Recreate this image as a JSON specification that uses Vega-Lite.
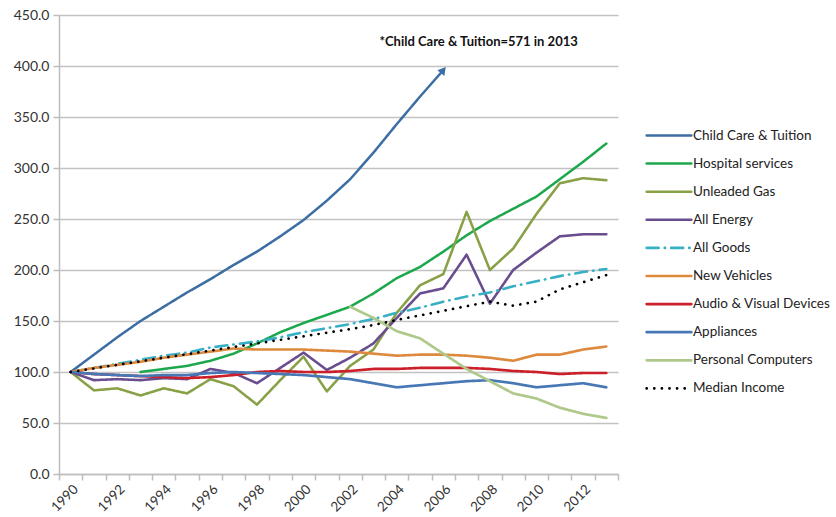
{
  "$schema": "https://vega.github.io/schema/vega-lite/v6.json",
  "width": 559,
  "height": 459,
  "autosize": "none",
  "padding": {"left": 59, "top": 15, "right": 218, "bottom": 43},
  "background": "white",
  "config": {
    "view": {"stroke": null},
    "font": "Lato",
    "axis": {"labelFont": "Lato", "labelFontSize": 14, "labelColor": "#333333", "domainColor": "#BDBDBD", "tickColor": "#BDBDBD", "domainWidth": 1.5, "tickWidth": 1.5, "gridColor": "#C2C2C2", "gridWidth": 1.5, "title": null},
    "legend": {"labelFont": "Lato", "labelFontSize": 13.5, "labelColor": "#222222"}
  },
  "datasets": {
    "series": [
      {"series": "Child Care & Tuition", "year": 1990, "value": 100},
      {"series": "Child Care & Tuition", "year": 1991, "value": 117},
      {"series": "Child Care & Tuition", "year": 1992, "value": 134},
      {"series": "Child Care & Tuition", "year": 1993, "value": 150},
      {"series": "Child Care & Tuition", "year": 1994, "value": 164},
      {"series": "Child Care & Tuition", "year": 1995, "value": 178},
      {"series": "Child Care & Tuition", "year": 1996, "value": 191},
      {"series": "Child Care & Tuition", "year": 1997, "value": 205},
      {"series": "Child Care & Tuition", "year": 1998, "value": 218},
      {"series": "Child Care & Tuition", "year": 1999, "value": 233},
      {"series": "Child Care & Tuition", "year": 2000, "value": 249},
      {"series": "Child Care & Tuition", "year": 2001, "value": 268},
      {"series": "Child Care & Tuition", "year": 2002, "value": 289},
      {"series": "Child Care & Tuition", "year": 2003, "value": 315},
      {"series": "Child Care & Tuition", "year": 2004, "value": 343},
      {"series": "Child Care & Tuition", "year": 2005, "value": 370},
      {"series": "Child Care & Tuition", "year": 2006, "value": 396},
      {"series": "Hospital services", "year": 1993, "value": 100},
      {"series": "Hospital services", "year": 1994, "value": 103},
      {"series": "Hospital services", "year": 1995, "value": 106},
      {"series": "Hospital services", "year": 1996, "value": 111},
      {"series": "Hospital services", "year": 1997, "value": 118},
      {"series": "Hospital services", "year": 1998, "value": 128},
      {"series": "Hospital services", "year": 1999, "value": 139},
      {"series": "Hospital services", "year": 2000, "value": 148},
      {"series": "Hospital services", "year": 2001, "value": 156},
      {"series": "Hospital services", "year": 2002, "value": 164},
      {"series": "Hospital services", "year": 2003, "value": 177},
      {"series": "Hospital services", "year": 2004, "value": 192},
      {"series": "Hospital services", "year": 2005, "value": 203},
      {"series": "Hospital services", "year": 2006, "value": 218},
      {"series": "Hospital services", "year": 2007, "value": 234},
      {"series": "Hospital services", "year": 2008, "value": 248},
      {"series": "Hospital services", "year": 2009, "value": 260},
      {"series": "Hospital services", "year": 2010, "value": 272},
      {"series": "Hospital services", "year": 2011, "value": 289},
      {"series": "Hospital services", "year": 2012, "value": 306},
      {"series": "Hospital services", "year": 2013, "value": 324},
      {"series": "Unleaded Gas", "year": 1990, "value": 100},
      {"series": "Unleaded Gas", "year": 1991, "value": 82},
      {"series": "Unleaded Gas", "year": 1992, "value": 84},
      {"series": "Unleaded Gas", "year": 1993, "value": 77},
      {"series": "Unleaded Gas", "year": 1994, "value": 84},
      {"series": "Unleaded Gas", "year": 1995, "value": 79},
      {"series": "Unleaded Gas", "year": 1996, "value": 93},
      {"series": "Unleaded Gas", "year": 1997, "value": 86},
      {"series": "Unleaded Gas", "year": 1998, "value": 68},
      {"series": "Unleaded Gas", "year": 1999, "value": 92},
      {"series": "Unleaded Gas", "year": 2000, "value": 115},
      {"series": "Unleaded Gas", "year": 2001, "value": 81},
      {"series": "Unleaded Gas", "year": 2002, "value": 106},
      {"series": "Unleaded Gas", "year": 2003, "value": 122},
      {"series": "Unleaded Gas", "year": 2004, "value": 158},
      {"series": "Unleaded Gas", "year": 2005, "value": 185},
      {"series": "Unleaded Gas", "year": 2006, "value": 196},
      {"series": "Unleaded Gas", "year": 2007, "value": 257},
      {"series": "Unleaded Gas", "year": 2008, "value": 200},
      {"series": "Unleaded Gas", "year": 2009, "value": 221},
      {"series": "Unleaded Gas", "year": 2010, "value": 255},
      {"series": "Unleaded Gas", "year": 2011, "value": 285},
      {"series": "Unleaded Gas", "year": 2012, "value": 290},
      {"series": "Unleaded Gas", "year": 2013, "value": 288},
      {"series": "All Energy", "year": 1990, "value": 100},
      {"series": "All Energy", "year": 1991, "value": 92},
      {"series": "All Energy", "year": 1992, "value": 93},
      {"series": "All Energy", "year": 1993, "value": 92},
      {"series": "All Energy", "year": 1994, "value": 94},
      {"series": "All Energy", "year": 1995, "value": 93},
      {"series": "All Energy", "year": 1996, "value": 103},
      {"series": "All Energy", "year": 1997, "value": 99},
      {"series": "All Energy", "year": 1998, "value": 89},
      {"series": "All Energy", "year": 1999, "value": 104},
      {"series": "All Energy", "year": 2000, "value": 119},
      {"series": "All Energy", "year": 2001, "value": 102},
      {"series": "All Energy", "year": 2002, "value": 114},
      {"series": "All Energy", "year": 2003, "value": 128},
      {"series": "All Energy", "year": 2004, "value": 153},
      {"series": "All Energy", "year": 2005, "value": 177},
      {"series": "All Energy", "year": 2006, "value": 182},
      {"series": "All Energy", "year": 2007, "value": 215},
      {"series": "All Energy", "year": 2008, "value": 167},
      {"series": "All Energy", "year": 2009, "value": 200},
      {"series": "All Energy", "year": 2010, "value": 217},
      {"series": "All Energy", "year": 2011, "value": 233},
      {"series": "All Energy", "year": 2012, "value": 235},
      {"series": "All Energy", "year": 2013, "value": 235},
      {"series": "All Goods", "year": 1990, "value": 100},
      {"series": "All Goods", "year": 1991, "value": 104},
      {"series": "All Goods", "year": 1992, "value": 108},
      {"series": "All Goods", "year": 1993, "value": 112},
      {"series": "All Goods", "year": 1994, "value": 116},
      {"series": "All Goods", "year": 1995, "value": 119},
      {"series": "All Goods", "year": 1996, "value": 124},
      {"series": "All Goods", "year": 1997, "value": 127},
      {"series": "All Goods", "year": 1998, "value": 130},
      {"series": "All Goods", "year": 1999, "value": 134},
      {"series": "All Goods", "year": 2000, "value": 139},
      {"series": "All Goods", "year": 2001, "value": 143},
      {"series": "All Goods", "year": 2002, "value": 147},
      {"series": "All Goods", "year": 2003, "value": 152},
      {"series": "All Goods", "year": 2004, "value": 158},
      {"series": "All Goods", "year": 2005, "value": 163},
      {"series": "All Goods", "year": 2006, "value": 169},
      {"series": "All Goods", "year": 2007, "value": 174},
      {"series": "All Goods", "year": 2008, "value": 178},
      {"series": "All Goods", "year": 2009, "value": 184},
      {"series": "All Goods", "year": 2010, "value": 189},
      {"series": "All Goods", "year": 2011, "value": 194},
      {"series": "All Goods", "year": 2012, "value": 198},
      {"series": "All Goods", "year": 2013, "value": 201},
      {"series": "New Vehicles", "year": 1990, "value": 100},
      {"series": "New Vehicles", "year": 1991, "value": 104},
      {"series": "New Vehicles", "year": 1992, "value": 107},
      {"series": "New Vehicles", "year": 1993, "value": 110},
      {"series": "New Vehicles", "year": 1994, "value": 114},
      {"series": "New Vehicles", "year": 1995, "value": 117},
      {"series": "New Vehicles", "year": 1996, "value": 120},
      {"series": "New Vehicles", "year": 1997, "value": 123},
      {"series": "New Vehicles", "year": 1998, "value": 122},
      {"series": "New Vehicles", "year": 1999, "value": 122},
      {"series": "New Vehicles", "year": 2000, "value": 122},
      {"series": "New Vehicles", "year": 2001, "value": 121},
      {"series": "New Vehicles", "year": 2002, "value": 120},
      {"series": "New Vehicles", "year": 2003, "value": 118},
      {"series": "New Vehicles", "year": 2004, "value": 116},
      {"series": "New Vehicles", "year": 2005, "value": 117},
      {"series": "New Vehicles", "year": 2006, "value": 117},
      {"series": "New Vehicles", "year": 2007, "value": 116},
      {"series": "New Vehicles", "year": 2008, "value": 114},
      {"series": "New Vehicles", "year": 2009, "value": 111},
      {"series": "New Vehicles", "year": 2010, "value": 117},
      {"series": "New Vehicles", "year": 2011, "value": 117},
      {"series": "New Vehicles", "year": 2012, "value": 122},
      {"series": "New Vehicles", "year": 2013, "value": 125},
      {"series": "Audio & Visual Devices", "year": 1990, "value": 100},
      {"series": "Audio & Visual Devices", "year": 1991, "value": 98},
      {"series": "Audio & Visual Devices", "year": 1992, "value": 97},
      {"series": "Audio & Visual Devices", "year": 1993, "value": 96},
      {"series": "Audio & Visual Devices", "year": 1994, "value": 95},
      {"series": "Audio & Visual Devices", "year": 1995, "value": 94},
      {"series": "Audio & Visual Devices", "year": 1996, "value": 95},
      {"series": "Audio & Visual Devices", "year": 1997, "value": 97},
      {"series": "Audio & Visual Devices", "year": 1998, "value": 100},
      {"series": "Audio & Visual Devices", "year": 1999, "value": 101},
      {"series": "Audio & Visual Devices", "year": 2000, "value": 100},
      {"series": "Audio & Visual Devices", "year": 2001, "value": 100},
      {"series": "Audio & Visual Devices", "year": 2002, "value": 101},
      {"series": "Audio & Visual Devices", "year": 2003, "value": 103},
      {"series": "Audio & Visual Devices", "year": 2004, "value": 103},
      {"series": "Audio & Visual Devices", "year": 2005, "value": 104},
      {"series": "Audio & Visual Devices", "year": 2006, "value": 104},
      {"series": "Audio & Visual Devices", "year": 2007, "value": 104},
      {"series": "Audio & Visual Devices", "year": 2008, "value": 103},
      {"series": "Audio & Visual Devices", "year": 2009, "value": 101},
      {"series": "Audio & Visual Devices", "year": 2010, "value": 100},
      {"series": "Audio & Visual Devices", "year": 2011, "value": 98},
      {"series": "Audio & Visual Devices", "year": 2012, "value": 99},
      {"series": "Audio & Visual Devices", "year": 2013, "value": 99},
      {"series": "Appliances", "year": 1990, "value": 100},
      {"series": "Appliances", "year": 1991, "value": 98},
      {"series": "Appliances", "year": 1992, "value": 97},
      {"series": "Appliances", "year": 1993, "value": 96},
      {"series": "Appliances", "year": 1994, "value": 97},
      {"series": "Appliances", "year": 1995, "value": 97},
      {"series": "Appliances", "year": 1996, "value": 99},
      {"series": "Appliances", "year": 1997, "value": 100},
      {"series": "Appliances", "year": 1998, "value": 99},
      {"series": "Appliances", "year": 1999, "value": 98},
      {"series": "Appliances", "year": 2000, "value": 97},
      {"series": "Appliances", "year": 2001, "value": 95},
      {"series": "Appliances", "year": 2002, "value": 93},
      {"series": "Appliances", "year": 2003, "value": 89},
      {"series": "Appliances", "year": 2004, "value": 85},
      {"series": "Appliances", "year": 2005, "value": 87},
      {"series": "Appliances", "year": 2006, "value": 89},
      {"series": "Appliances", "year": 2007, "value": 91},
      {"series": "Appliances", "year": 2008, "value": 92},
      {"series": "Appliances", "year": 2009, "value": 89},
      {"series": "Appliances", "year": 2010, "value": 85},
      {"series": "Appliances", "year": 2011, "value": 87},
      {"series": "Appliances", "year": 2012, "value": 89},
      {"series": "Appliances", "year": 2013, "value": 85},
      {"series": "Personal Computers", "year": 2002, "value": 164},
      {"series": "Personal Computers", "year": 2003, "value": 153},
      {"series": "Personal Computers", "year": 2004, "value": 140},
      {"series": "Personal Computers", "year": 2005, "value": 133},
      {"series": "Personal Computers", "year": 2006, "value": 118},
      {"series": "Personal Computers", "year": 2007, "value": 103},
      {"series": "Personal Computers", "year": 2008, "value": 91},
      {"series": "Personal Computers", "year": 2009, "value": 79},
      {"series": "Personal Computers", "year": 2010, "value": 74},
      {"series": "Personal Computers", "year": 2011, "value": 65},
      {"series": "Personal Computers", "year": 2012, "value": 59},
      {"series": "Personal Computers", "year": 2013, "value": 55},
      {"series": "Median Income", "year": 1990, "value": 100},
      {"series": "Median Income", "year": 1991, "value": 103.5},
      {"series": "Median Income", "year": 1992, "value": 107},
      {"series": "Median Income", "year": 1993, "value": 110.5},
      {"series": "Median Income", "year": 1994, "value": 114},
      {"series": "Median Income", "year": 1995, "value": 117.5},
      {"series": "Median Income", "year": 1996, "value": 121},
      {"series": "Median Income", "year": 1997, "value": 124.5},
      {"series": "Median Income", "year": 1998, "value": 128},
      {"series": "Median Income", "year": 1999, "value": 131.5},
      {"series": "Median Income", "year": 2000, "value": 135},
      {"series": "Median Income", "year": 2001, "value": 138.5},
      {"series": "Median Income", "year": 2002, "value": 142},
      {"series": "Median Income", "year": 2003, "value": 146},
      {"series": "Median Income", "year": 2004, "value": 151},
      {"series": "Median Income", "year": 2005, "value": 155.5},
      {"series": "Median Income", "year": 2006, "value": 160},
      {"series": "Median Income", "year": 2007, "value": 164.5},
      {"series": "Median Income", "year": 2008, "value": 169},
      {"series": "Median Income", "year": 2009, "value": 165},
      {"series": "Median Income", "year": 2010, "value": 169},
      {"series": "Median Income", "year": 2011, "value": 181},
      {"series": "Median Income", "year": 2012, "value": 188},
      {"series": "Median Income", "year": 2013, "value": 195}
    ],
    "note": [
      {"year": 2003, "value": 424, "label": "*Child Care & Tuition=571 in 2013"}
    ]
  },
  "layer": [
    {
      "data": {"name": "series"},
      "mark": {"type": "line", "strokeCap": "round", "strokeJoin": "round"},
      "encoding": {
        "x": {
          "field": "year", "type": "ordinal",
          "scale": {"type": "band", "paddingInner": 0, "paddingOuter": 0, "domain": [1990,1991,1992,1993,1994,1995,1996,1997,1998,1999,2000,2001,2002,2003,2004,2005,2006,2007,2008,2009,2010,2011,2012,2013]},
          "axis": {"tickBand": "extent", "labelAngle": -45, "tickSize": 6, "labelPadding": 2, "labelFontSize": 13.5, "labelExpr": "datum.value % 2 == 0 ? datum.label : ''", "grid": false}
        },
        "y": {
          "field": "value", "type": "quantitative",
          "scale": {"domain": [0, 450], "nice": false, "zero": true},
          "axis": {"values": [0,50,100,150,200,250,300,350,400,450], "format": ".1f", "tickSize": 6, "labelPadding": 4, "grid": true}
        },
        "color": {
          "field": "series", "type": "nominal",
          "scale": {
            "domain": ["Child Care & Tuition","Hospital services","Unleaded Gas","All Energy","All Goods","New Vehicles","Audio & Visual Devices","Appliances","Personal Computers","Median Income"],
            "range": ["#3C6EA4","#1EA84E","#88A046","#694D8E","#37AFC4","#DE8A3E","#CC1F2A","#4778B5","#AFC98A","#000000"]
          },
          "legend": {
            "orient": "none", "legendX": 603, "legendY": 113.5, "title": null, "padding": 0,
            "symbolType": "M-4,0H4", "symbolSize": 125, "symbolStrokeWidth": 3,
            "labelOffset": 17, "rowPadding": 14.1,
            "encode": {"symbols": {"update": {"strokeCap": {"value": "round"}}}}
          }
        },
        "strokeDash": {
          "field": "series", "type": "nominal",
          "scale": {
            "domain": ["Child Care & Tuition","Hospital services","Unleaded Gas","All Energy","All Goods","New Vehicles","Audio & Visual Devices","Appliances","Personal Computers","Median Income"],
            "range": [[1,0],[1,0],[1,0],[1,0],[12,6,0.5,6],[1,0],[1,0],[1,0],[1,0],[0.1,7.5]]
          },
          "legend": {
            "orient": "none", "legendX": 603, "legendY": 113.5, "title": null, "padding": 0,
            "symbolType": "M-4,0H4", "symbolSize": 125, "symbolStrokeWidth": 3,
            "labelOffset": 17, "rowPadding": 14.1
          }
        },
        "strokeWidth": {
          "field": "series", "type": "nominal",
          "scale": {
            "domain": ["Child Care & Tuition","Hospital services","Unleaded Gas","All Energy","All Goods","New Vehicles","Audio & Visual Devices","Appliances","Personal Computers","Median Income"],
            "range": [2.5,2.7,2.5,2.5,2.5,2.5,3.5,2.5,2.5,4.6]
          },
          "legend": {
            "orient": "none", "legendX": 603, "legendY": 113.5, "title": null, "padding": 0,
            "symbolType": "M-4,0H4", "symbolSize": 125,
            "labelOffset": 17, "rowPadding": 14.1
          }
        },
        "order": {"field": "year", "type": "quantitative"}
      }
    },
    {
      "data": {"name": "series"},
      "transform": [{"filter": "datum.series == 'Child Care & Tuition' && datum.year == 2006"}],
      "mark": {"type": "point", "shape": "triangle-up", "filled": true, "opacity": 1, "color": "#3C6EA4", "size": 80, "angle": 39},
      "encoding": {
        "x": {"field": "year", "type": "ordinal"},
        "y": {"field": "value", "type": "quantitative"}
      }
    },
    {
      "data": {"name": "note"},
      "mark": {"type": "text", "font": "Lato", "fontWeight": "bold", "fontSize": 13, "align": "left", "baseline": "middle", "dx": 6, "color": "#111111"},
      "encoding": {
        "x": {"field": "year", "type": "ordinal"},
        "y": {"field": "value", "type": "quantitative"},
        "text": {"field": "label"}
      }
    }
  ]
}
